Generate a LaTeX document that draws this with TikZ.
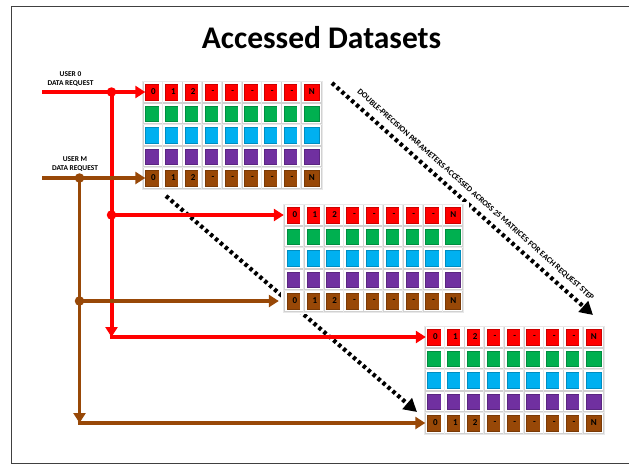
\documentclass[tikz,border=0pt]{standalone}
\usepackage{fontspec}
\setmainfont{Carlito}
\usetikzlibrary{arrows.meta,calc}

\definecolor{reqred}{RGB}{255,0,0}
\definecolor{reqbrown}{RGB}{152,72,7}
\definecolor{cellred}{RGB}{255,0,0}
\definecolor{cellgreen}{RGB}{0,176,80}
\definecolor{cellblue}{RGB}{0,176,240}
\definecolor{cellpurple}{RGB}{112,48,160}
\definecolor{cellbrown}{RGB}{152,72,7}

\tikzset{
  x=1pt, y=-1pt,
  cell/.style={minimum width=15pt, minimum height=15.5pt, inner sep=0pt,
    font=\bfseries\fontsize{9}{9}\selectfont, text=black},
  reqline/.style={line width=4pt},
  brownline/.style={line width=3.6pt},
  reqtip/.style={-{Triangle[length=10pt,width=12pt]}},
  junction/.style={circle, inner sep=0pt, minimum size=9.5pt},
  dotline/.style={line width=4.2pt, dash pattern=on 3.4pt off 3.1pt,
    -{Triangle[length=13pt,width=14pt]}},
  userlabel/.style={align=center, font=\bfseries\fontsize{7.4}{9}\selectfont},
}

\begin{document}
\begin{tikzpicture}
\useasboundingbox (0,0) rectangle (629,464);
\fill[white] (0,0) rectangle (629,464);

% outer frame
\draw[line width=1pt, black!75] (11,6) rectangle (631,463);

% title
\node[anchor=base, font=\bfseries\fontsize{31.5}{34}\selectfont] (title) at (321.5,48.5) {Accessed Datasets};

% dotted access arrows (drawn first so the grids hide them)
\coordinate (d1s) at (332,83);
\coordinate (d1e) at (593,315);
\coordinate (d2s) at (166,196);
\coordinate (d2e) at (417,412);
\draw[dotline] (d1s) -- (d1e)
  node[sloped, above=3pt, pos=0.52, font=\bfseries\fontsize{8.2}{9}\selectfont] (steplabel)
  {DOUBLE-PRECISION PARAMETERS ACCESSED ACROSS 25 MATRICES FOR EACH REQUEST STEP};
\draw[dotline] (d2s) -- (d2e);

% the three matrix grids
\foreach \g/\gx/\gy in {1/145.5/92, 2/287/215, 3/427.5/337} {
  \fill[white] (\gx-6,\gy-13) rectangle (\gx+182,\gy+99);
  \foreach \r/\col in {0/cellred,1/cellgreen,2/cellblue,3/cellpurple,4/cellbrown} {
    \foreach \c/\t in {0/0,1/1,2/2,3/-,4/-,5/-,6/-,7/-,8/N} {
      \pgfmathsetmacro\x{\gx+19.8*\c}
      \pgfmathsetmacro\y{\gy+21.5*\r}
      % card shadow and face
      \fill[black!9] (\x-3.6,\y-10.8) rectangle (\x+18.6,\y+11.6);
      \fill[black!18] (\x-2.8,\y-10.1) rectangle (\x+17.8,\y+10.8);
      \fill[white] (\x-2,\y-9.6) rectangle (\x+17,\y+9.6);
      \node[cell, fill=\col, draw=\col!80!black, line width=0.4pt] (g\g-\r-\c) at (\x+7.5,\y)
        {\ifnum\r=0 \hspace*{1pt}\t\else\ifnum\r=4 \hspace*{1pt}\t\fi\fi};
      \ifnum\c<8
        \fill[white] (\x+13,\y-8.5) rectangle (\x+17,\y+8.5);
      \fi
    }
  }
}

% user 0 request path (red)
\node[userlabel] (u0) at (70.5,79.5) {USER 0\\DATA REQUEST};
\coordinate (u0s) at (42,92);
\coordinate (r1) at (111.5,92);
\coordinate (r2) at (111.5,215);
\coordinate (r3) at (111.5,337);
\draw[reqred, reqline, reqtip] (u0s) -- (g1-0-0.west);
\draw[reqred, reqline, reqtip] (r1) -- (r3);
\draw[reqred, reqline, reqtip, shorten >=3pt] (r2) -- (g2-0-0.west);
\draw[reqred, reqline, reqtip, shorten >=1.5pt] ([xshift=-2pt]r3) -- (g3-0-0.west);
\node[junction, fill=reqred] (jr1) at (r1) {};
\node[junction, fill=reqred] (jr2) at (r2) {};

% user M request path (brown)
\node[userlabel] (um) at (75,164) {USER M\\DATA REQUEST};
\coordinate (ums) at (42,178);
\coordinate (b1) at (79.5,178);
\coordinate (b2) at (79.5,301);
\coordinate (b3) at (79.5,423);
\draw[reqbrown, brownline, reqtip] (ums) -- (g1-4-0.west);
\draw[reqbrown, brownline, reqtip] (b1) -- (b3);
\draw[reqbrown, brownline, reqtip, shorten >=8pt] (b2) -- (g2-4-0.west);
\draw[reqbrown, brownline, reqtip, shorten >=2pt] ([xshift=-1.8pt]b3) -- (g3-4-0.west);
\node[junction, fill=reqbrown] (jb1) at (b1) {};
\node[junction, fill=reqbrown] (jb2) at (b2) {};
\end{tikzpicture}
\end{document}
